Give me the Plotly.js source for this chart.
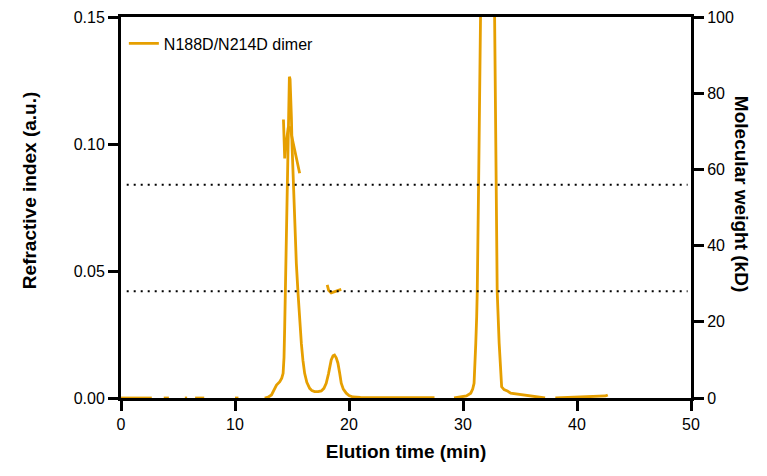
<!DOCTYPE html>
<html>
<head>
<meta charset="utf-8">
<script src="https://cdn.plot.ly/plotly-3.0.1.min.js"></script>
<style>html,body{margin:0;padding:0;background:#fff;}#chart{width:767px;height:476px;}</style>
</head>
<body>
<div id="chart"></div>
<script>
// Refractive index trace (min, a.u.); null = hidden under the axis line
const riTime = [0, 2.7, null, 3.75, 4.2, null, 5.6, 5.8, null, 6.5, 7.3, null, 10.0, 10.3, null,
  12.6, 12.9, 13.2, 13.45, 13.64, 13.93, 14.1, 14.22, 14.3, 14.36, 14.44, 14.51, 14.58, 14.66, 14.72, 14.77,
  14.83, 14.89, 14.95, 15.0, 15.12, 15.24, 15.38, 15.53, 15.67, 15.82, 15.96, 16.11, 16.3, 16.55, 16.75, 16.98,
  17.3, 17.57, 17.8, 18.0, 18.2, 18.44, 18.6, 18.73, 18.88, 19.03, 19.18, 19.32, 19.5, 19.76, 20.0, 20.34,
  21.0, 23.0, 25.0, 27.5, null,
  29.22, 29.8, 30.3, 30.68, 30.85, 30.97, 31.05, 31.12, 31.2, 31.25, 31.37, 31.47, 31.6, 31.8, 32.0, 32.15,
  32.3, 32.5, 32.7, 32.81, 32.93, 33.0, 33.17, 33.3, 33.39, 33.6, 33.89, 34.18, 35.05, 35.9, 37.2, null,
  38.1, 39.9, 41.6, 42.5, 42.7];
const riValue = [0, 0, null, 0, 0, null, 0, 0, null, 0, 0, null, 0, 0, null,
  0, 0.0003, 0.0012, 0.0035, 0.0051, 0.0064, 0.0078, 0.0097, 0.016, 0.028, 0.048, 0.0674, 0.088, 0.107, 0.12, 0.1265,
  0.1255, 0.12, 0.11, 0.100, 0.083, 0.0674, 0.053, 0.0412, 0.030, 0.0215, 0.0148, 0.0097, 0.0062, 0.0038, 0.0029, 0.0025,
  0.0025, 0.0028, 0.0038, 0.0058, 0.0095, 0.015, 0.0166, 0.0169, 0.0158, 0.0137, 0.0098, 0.0058, 0.0035, 0.0019, 0.0010, 0.0004,
  0.0002, 0.0001, 0.0001, 0.0001, null,
  0, 0.0003, 0.0008, 0.0019, 0.0035, 0.0058, 0.012, 0.0215, 0.032, 0.0419, 0.0845, 0.15, 0.23, 0.33, 0.38, 0.39,
  0.36, 0.28, 0.19, 0.15, 0.085, 0.0419, 0.0217, 0.009, 0.0044, 0.0033, 0.0028, 0.0019, 0.0014, 0.0008, 0, null,
  0, 0.0003, 0.0005, 0.0008, 0.0012];

// Molecular weight trace (min, kD)
const mwTime = [14.25, 14.3, 14.36, 14.5, 14.66, 14.8, 15.09, 15.38, 15.67, null,
  18.09, 18.21, 18.44, 18.73, 19.03, 19.32];
const mwValue = [73.1, 67.7, 62.9, 67.0, 70.8, 71.2, 66.8, 63.3, 59.0, null,
  29.7, 28.3, 27.6, 27.9, 28.3, 28.5];

// Reference molecular weights (kD) drawn as dotted lines
const mwRefs = [56, 28];
const refStart = 0.5, refEnd = 49.7;

const seriesName = 'N188D/N214D dimer';
const xTicks = [0, 10, 20, 30, 40, 50];
const yTicks = [0, 0.05, 0.10, 0.15];
const y2Ticks = [0, 20, 40, 60, 80, 100];

const col = '#E69F00';
const fontFam = 'Liberation Sans, Arial, Helvetica, sans-serif';

const traces = [
  {x: riTime, y: riValue, type: 'scatter', mode: 'lines', name: seriesName,
   line: {color: col, width: 2.8}, connectgaps: false, xaxis: 'x', yaxis: 'y'},
  {x: mwTime, y: mwValue, type: 'scatter', mode: 'lines', name: seriesName + ' MW', showlegend: false,
   line: {color: col, width: 2.8}, connectgaps: false, xaxis: 'x', yaxis: 'y2'}
];

const shapes = mwRefs.map(v => ({type: 'line', xref: 'x', yref: 'y2', x0: refStart, x1: refEnd, y0: v, y1: v,
  line: {color: '#000', width: 2, dash: '2px,5px'}}));

const axisCommon = {showline: true, linecolor: '#000', linewidth: 3, ticks: 'outside', ticklen: 10, tickwidth: 3,
  tickcolor: '#000', showgrid: false, zeroline: false, tickfont: {family: fontFam, size: 16, color: '#000'}};

const titleFont = {family: fontFam, size: 19, color: '#000'};

const layout = {
  width: 767, height: 476,
  margin: {l: 121, r: 76, t: 17, b: 78},
  paper_bgcolor: '#fff', plot_bgcolor: '#fff',
  font: {family: fontFam, color: '#000'},
  showlegend: true,
  legend: {x: 0.005, y: 0.975, xanchor: 'left', yanchor: 'top', bgcolor: 'rgba(0,0,0,0)',
    font: {family: fontFam, size: 16, color: '#000'}},
  xaxis: Object.assign({}, axisCommon, {range: [0, 50], tickvals: xTicks, mirror: true,
    title: {text: '<b>Elution time (min)</b>', font: titleFont, standoff: 13}}),
  yaxis: Object.assign({}, axisCommon, {range: [0, 0.15], tickvals: yTicks, tickformat: '.2f'}),
  yaxis2: Object.assign({}, axisCommon, {range: [0, 100], tickvals: y2Ticks, overlaying: 'y', side: 'right'}),
  shapes: shapes,
  annotations: [
    {text: '<b>Refractive index (a.u.)</b>', xref: 'paper', yref: 'paper', x: -0.16, y: 0.545,
     xanchor: 'center', yanchor: 'middle', textangle: -90, showarrow: false, font: titleFont},
    {text: '<b>Molecular weight (kD)</b>', xref: 'paper', yref: 'paper', x: 1.09, y: 0.535,
     xanchor: 'center', yanchor: 'middle', textangle: 90, showarrow: false, font: titleFont}
  ]
};

Plotly.newPlot('chart', traces, layout, {displayModeBar: false, staticPlot: true});
</script>
</body>
</html>
